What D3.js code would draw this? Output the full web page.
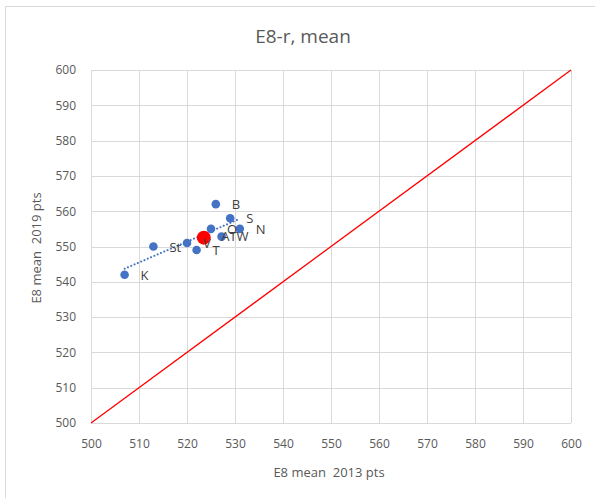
<!DOCTYPE html>
<html><head><meta charset="utf-8">
<script src="https://cdn.jsdelivr.net/npm/d3@7"></script>
<style>body{margin:0;background:#fff}svg{display:block}text{white-space:pre}</style>
</head><body>
<svg id="c" width="595" height="498"></svg>
<script>
const labels = ["K","St","V","T","ATW","","O","B","S","N"];
const x2013 = [507,513,520,522,523.8,527.2,525,526,529,531];
const y2019 = [542,550,551,549,553,552.8,555,562,558,555];
const meanLabel = ["mean"];
const meanX = [523.5];
const meanY = [552.5];
const ticks = [500,510,520,530,540,550,560,570,580,590,600];
const title = "E8-r, mean";
const xTitle = "E8 mean  2013 pts";
const yTitle = "E8 mean  2019 pts";

const svg = d3.select("#c");
const font = "'Open Sans', 'Liberation Sans', sans-serif";
const grey = "#595959";
svg.append("rect").attr("x",5.5).attr("y",6.5).attr("width",620).attr("height",520)
  .attr("fill","#fff").attr("stroke","#d9d9d9");

const x = d3.scaleLinear().domain([500,600]).range([91,571]);
const y = d3.scaleLinear().domain([500,600]).range([423,70]);

// gridlines
const g = svg.append("g");
g.selectAll(".vx").data(ticks).join("line")
  .attr("x1",d=>Math.round(x(d))+0.5).attr("x2",d=>Math.round(x(d))+0.5)
  .attr("y1",y(600)).attr("y2",y(500)).attr("stroke","#d9d9d9");
g.selectAll(".hy").data(ticks).join("line")
  .attr("y1",d=>Math.round(y(d))+0.5).attr("y2",d=>Math.round(y(d))+0.5)
  .attr("x1",x(500)).attr("x2",x(600)).attr("stroke","#d9d9d9");

// axes labels
const xa = svg.append("g").attr("transform",`translate(0,${y(500)})`)
  .call(d3.axisBottom(x).tickValues(ticks).tickSize(0).tickPadding(16));
xa.select(".domain").remove();
xa.selectAll("text").attr("fill",grey).style("font-family",font).style("font-size","12px");
const ya = svg.append("g").attr("transform",`translate(${x(500)},0)`)
  .call(d3.axisLeft(y).tickValues(ticks).tickSize(0).tickPadding(15));
ya.select(".domain").remove();
ya.selectAll("text").attr("fill",grey).style("font-family",font).style("font-size","12px");

svg.append("text").attr("x",303).attr("y",43).attr("text-anchor","middle")
  .attr("fill",grey).style("font-family",font).style("font-size","19px").text(title);
svg.append("text").attr("x",329).attr("y",477).attr("text-anchor","middle")
  .attr("fill",grey).style("font-family",font).style("font-size","13px").text(xTitle);
svg.append("text").attr("transform","translate(41,248) rotate(-90)").attr("text-anchor","middle")
  .attr("fill",grey).style("font-family",font).style("font-size","13px").text(yTitle);

// diagonal
svg.append("line").attr("x1",x(500)).attr("y1",y(500)).attr("x2",x(600)).attr("y2",y(600))
  .attr("stroke","#ff0000").attr("stroke-width",1.3);

// trendline (least squares from data)
const mx = d3.mean(x2013), my = d3.mean(y2019);
const slope = d3.sum(x2013.map((v,i)=>(v-mx)*(y2019[i]-my))) / d3.sum(x2013.map(v=>(v-mx)**2));
const xs = d3.extent(x2013);
const fy = v => my + slope*(v-mx);
svg.append("line").attr("x1",x(xs[0])).attr("y1",y(fy(xs[0])))
  .attr("x2",x(xs[1])).attr("y2",y(fy(xs[1])))
  .attr("stroke","#4472c4").attr("stroke-width",2).attr("stroke-dasharray","0.1,3.5").attr("stroke-linecap","round");

// points
const pts = labels.map((l,i)=>({l, x:x2013[i], y:y2019[i]}));
svg.selectAll(".p").data(pts).join("circle")
  .attr("cx",d=>x(d.x)).attr("cy",d=>y(d.y)).attr("r",4.3).attr("fill","#4472c4");
svg.selectAll(".m").data(meanLabel.map((l,i)=>({l,x:meanX[i],y:meanY[i]}))).join("circle")
  .attr("cx",d=>x(d.x)).attr("cy",d=>y(d.y)).attr("r",7).attr("fill","#ff0000");
svg.selectAll(".lb").data(pts.filter(d=>d.l)).join("text")
  .attr("x",d=>x(d.x)+16).attr("y",d=>y(d.y)+5)
  .attr("fill","#404040").style("font-family",font).style("font-size","13px").text(d=>d.l);
</script>
</body></html>
